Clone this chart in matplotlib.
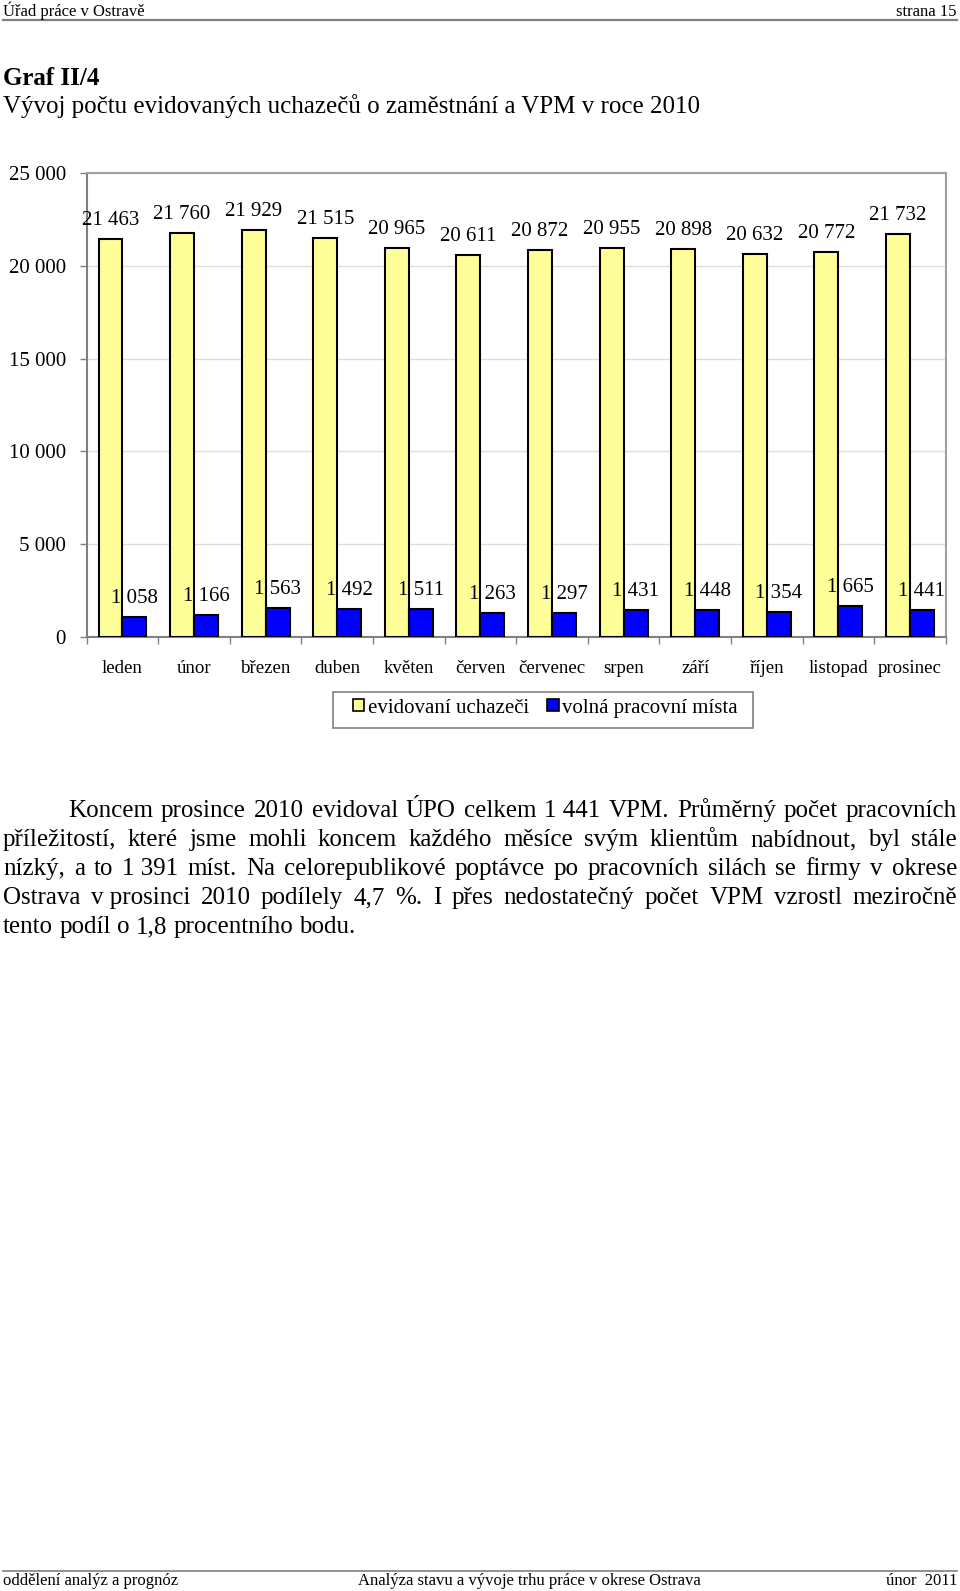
import matplotlib
matplotlib.use('Agg')
import matplotlib.pyplot as plt
from matplotlib.lines import Line2D
from matplotlib.patches import Patch, Rectangle
import numpy as np

# data
months = ['leden', 'únor', 'březen', 'duben', 'květen', 'červen',
          'červenec', 'srpen', 'září', 'říjen', 'listopad', 'prosinec']
uchazeci = [21463, 21760, 21929, 21515, 20965, 20611, 20872, 20955, 20898, 20632, 20772, 21732]
vpm = [1058, 1166, 1563, 1492, 1511, 1263, 1297, 1431, 1448, 1354, 1665, 1441]
series_names = ['evidovaní uchazeči', 'volná pracovní místa']
y_ticks = [0, 5000, 10000, 15000, 20000, 25000]

header_left = 'Úřad práce v Ostravě'
header_right = 'strana 15'
title_1 = 'Graf II/4'
title_2 = 'Vývoj počtu evidovaných uchazečů o zaměstnání a VPM v roce 2010'
paragraph = [
    'Koncem prosince 2010 evidoval ÚPO celkem 1\u00a0441 VPM. Průměrný počet pracovních',
    'příležitostí, které jsme mohli koncem každého měsíce svým klientům nabídnout, byl stále',
    'nízký, a to 1\u00a0391 míst. Na celorepublikové poptávce po pracovních silách se firmy v okrese',
    'Ostrava v\u00a0prosinci 2010 podílely 4,7 %. I přes nedostatečný počet VPM vzrostl meziročně',
    'tento podíl o 1,8 procentního bodu.',
]
footer = ['oddělení analýz a prognóz', 'Analýza stavu a vývoje trhu práce v okrese Ostrava', 'únor  2011']

W, H = 960, 1591
plt.rcParams['font.family'] = 'Liberation Serif'


def fx(x):
    return x / W


def fy(y):
    return 1 - y / H


def fmt(v):
    return f'{v:,}'.replace(',', ' ')


fig = plt.figure(figsize=(W / 100, H / 100), dpi=100)

# page header / titles
fig.text(fx(3), fy(16), header_left, fontsize=12, va='baseline', ha='left')
fig.text(fx(957), fy(16), header_right, fontsize=12, va='baseline', ha='right')
fig.add_artist(Line2D([fx(3), fx(957)], [fy(20), fy(20)], color='#808080', lw=1.6))
fig.text(fx(3), fy(85), title_1, fontsize=18, fontweight='bold', va='baseline')
fig.text(fx(3), fy(113), title_2, fontsize=18, va='baseline')

# chart
ax = fig.add_axes([fx(86.7), fy(636.8), (945.7 - 86.7) / W, (636.8 - 173.3) / H])
x = np.arange(len(months))
bw = 0.335
b1 = ax.bar(x - bw / 2, uchazeci, bw, color='#FFFF99', edgecolor='black', lw=1.5, zorder=3)
b2 = ax.bar(x + bw / 2, vpm, bw, color='#0000FF', edgecolor='black', lw=1.5, zorder=3)

for bars, vals in ((b1, uchazeci), (b2, vpm)):
    for rect, v in zip(bars, vals):
        ax.annotate(fmt(v), (rect.get_x() + rect.get_width() / 2, v),
                    xytext=(0, 10), textcoords='offset points',
                    ha='center', va='baseline', fontsize=15, zorder=4)

ax.set_ylim(0, 25000)
ax.set_xlim(-0.5, len(months) - 0.5)
ax.set_yticks(y_ticks)
ax.set_yticklabels([fmt(v) for v in y_ticks], fontsize=15)
ax.set_xticks(x)
ax.set_xticklabels(months, fontsize=13.6)
ax.set_xticks(np.arange(len(months) + 1) - 0.5, minor=True)
ax.tick_params(axis='x', which='major', length=0, pad=17)
ax.tick_params(axis='x', which='minor', length=5, width=1, color='#808080', direction='out')
ax.tick_params(axis='y', length=5, width=1, color='#808080', pad=10)
ax.yaxis.grid(True, color='#DDDDDD', lw=1, zorder=0)
ax.set_axisbelow(True)
for side in ('top', 'right'):
    ax.spines[side].set_color('#A0A0A0')
    ax.spines[side].set_linewidth(1.5)
for side in ('left', 'bottom'):
    ax.spines[side].set_color('#808080')
    ax.spines[side].set_linewidth(1.5)

# legend with a plain box round it
handles = [Patch(facecolor='#FFFF99', edgecolor='black', lw=1.2),
           Patch(facecolor='#0000FF', edgecolor='black', lw=1.2)]
fig.legend(handles, series_names, loc='center left', bbox_to_anchor=(fx(353), fy(708)),
           ncol=2, fontsize=15, frameon=False, handlelength=0.55, handleheight=0.5,
           handletextpad=0.15, columnspacing=0.9, borderpad=0, borderaxespad=0)
fig.add_artist(Rectangle((fx(332.5), fy(727.5)), fx(752.5) - fx(332.5), fy(691.5) - fy(727.5),
                         transform=fig.transFigure, fill=False, edgecolor='#808080', lw=1.2))

# justified paragraph
fig.canvas.draw()
renderer = fig.canvas.get_renderer()
left, right = 3, 957
base_y = [817, 846, 875, 904, 933]
for i, line in enumerate(paragraph):
    words = line.split(' ')
    start = 68 if i == 0 else left
    texts = [fig.text(0, fy(base_y[i]), w.replace('\u00a0', ' '), fontsize=18, va='baseline')
             for w in words]
    widths = [t.get_window_extent(renderer).width for t in texts]
    if i < len(paragraph) - 1:
        gap = (right - start - sum(widths)) / (len(words) - 1)
    else:
        gap = 0.25 * 25
    pos = start
    for t, w in zip(texts, widths):
        t.set_x(fx(pos))
        pos += w + gap

# page footer
fig.add_artist(Line2D([fx(3), fx(957)], [fy(1571), fy(1571)], color='#808080', lw=1.2))
fig.text(fx(3), fy(1585), footer[0], fontsize=12, va='baseline', ha='left')
fig.text(fx(358), fy(1585), footer[1], fontsize=12, va='baseline', ha='left')
fig.text(fx(957), fy(1585), footer[2], fontsize=12, va='baseline', ha='right')

fig.savefig('out.png', dpi=100)
